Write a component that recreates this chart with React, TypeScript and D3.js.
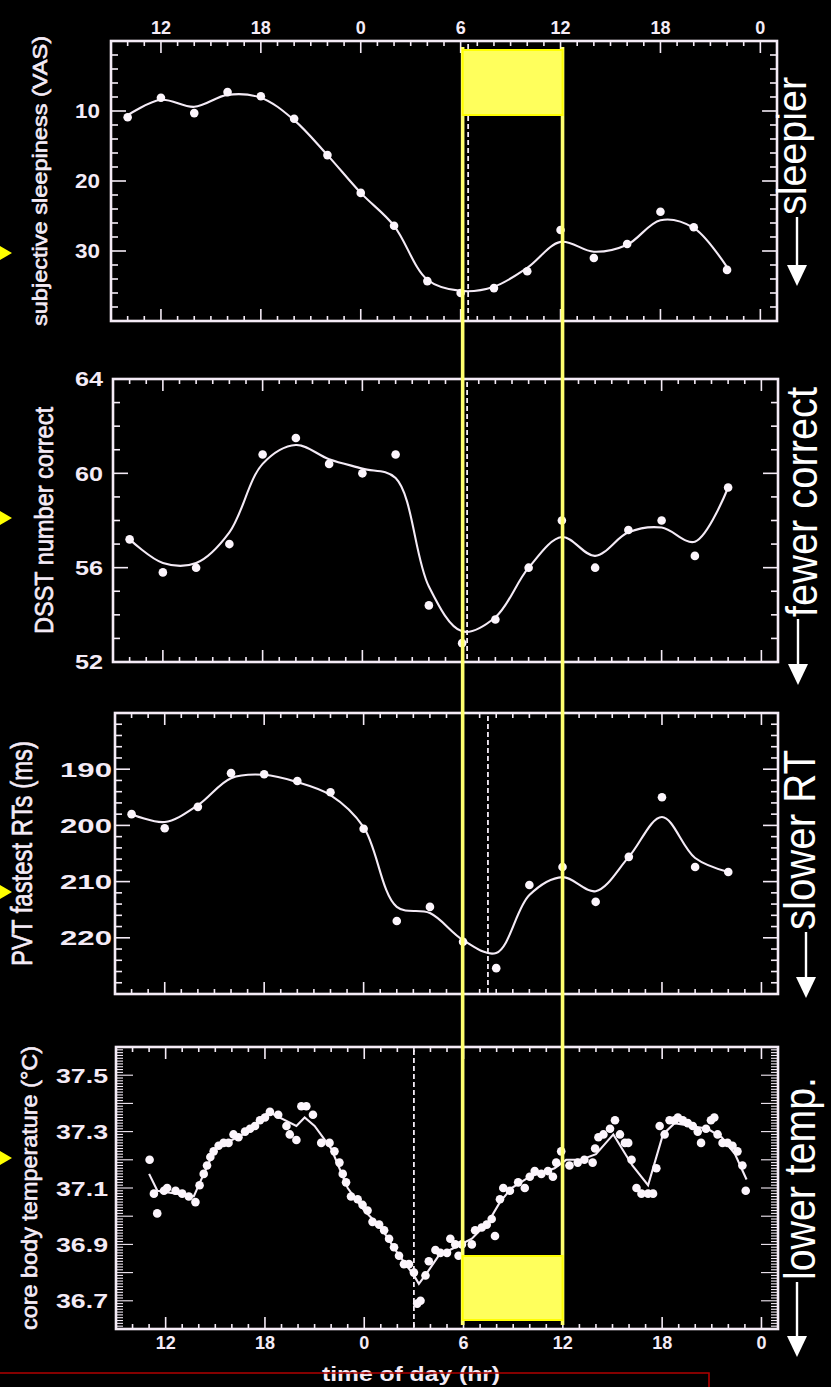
import * as d3 from "d3";

// session times (continuous clock hours, 24 = midnight, 48 = next midnight)
const sessionHours = [10, 12, 14, 16, 18, 20, 22, 24, 26, 28, 30, 32, 34, 36, 38, 40, 42, 44, 46];

const sleepiness = [10.9, 8.1, 10.3, 7.3, 7.9, 11.1, 16.3, 21.7, 26.4, 34.3, 36.0, 35.3, 32.9, 27.0, 31.0, 29.0, 24.4, 26.6, 32.7];
const sleepinessFit = [10.6, 8.4, 9.4, 7.7, 8.1, 11.3, 16.3, 21.7, 26.4, 34.1, 35.7, 35.1, 32.4, 28.7, 30.1, 29.1, 25.6, 26.7, 32.3];

const dsst = [57.2, 55.8, 56.0, 57.0, 60.8, 61.5, 60.4, 60.0, 60.8, 54.4, 52.8, 53.8, 56.0, 58.0, 56.0, 57.6, 58.0, 56.5, 59.4];
const dsstFit = [57.2, 56.2, 56.2, 57.5, 60.4, 61.2, 60.6, 60.2, 59.8, 55.2, 53.3, 53.9, 56.0, 57.3, 56.5, 57.5, 57.7, 57.1, 59.4];

const pvt = [198.0, 200.5, 196.7, 190.7, 190.9, 192.1, 194.1, 200.6, 217.0, 214.5, 220.7, 225.4, 210.6, 207.4, 213.6, 205.6, 195.0, 207.4, 208.3];
const pvtFit = [198.0, 199.4, 196.4, 191.6, 191.0, 192.3, 194.6, 200.3, 214.5, 215.6, 220.4, 222.7, 212.4, 209.2, 211.7, 205.6, 198.5, 205.8, 208.3];

const tempHours = [
  11.03, 11.29, 11.49, 11.9, 12.09, 12.6, 13.0, 13.4, 13.8, 14.05, 14.3, 14.5, 14.7, 14.9, 15.2, 15.5, 15.8,
  16.1, 16.4, 16.8, 17.1, 17.4, 17.7, 18.0, 18.3, 18.8, 19.3, 19.5, 19.9, 20.2, 20.5, 20.9, 21.4, 21.9,
  22.2, 22.5, 22.7, 22.9, 23.2, 23.6, 23.9, 24.2, 24.5, 24.9, 25.2, 25.5, 25.8, 26.1, 26.4, 26.7, 27.0,
  27.2, 27.4, 27.7, 27.9, 28.3, 28.6, 29.0, 29.2, 29.5, 29.7, 29.9, 30.5, 30.7, 31.1, 31.4, 31.7, 31.9,
  32.2, 32.4, 32.8, 33.3, 33.7, 34.0, 34.3, 34.7, 35.1, 35.4, 35.6, 35.9, 36.4, 36.9, 37.3, 37.8, 37.95,
  38.15, 38.45, 38.85, 39.15, 39.45, 39.75, 39.95, 40.15, 40.45, 40.75, 41.15, 41.45, 41.65, 41.85, 42.15,
  42.45, 42.75, 42.95, 43.25, 43.55, 43.85, 44.15, 44.35, 44.65, 44.95, 45.15, 45.35, 45.65, 45.95, 46.25,
  46.55, 46.85, 47.05,
];
const tempValues = [
  37.20, 37.08, 37.01, 37.09, 37.10, 37.09, 37.08, 37.07, 37.05, 37.11, 37.15, 37.18, 37.21, 37.23, 37.25, 37.26, 37.26,
  37.29, 37.28, 37.30, 37.31, 37.32, 37.34, 37.35, 37.37, 37.36, 37.32, 37.29, 37.27, 37.39, 37.39, 37.36, 37.26, 37.26,
  37.23, 37.19, 37.15, 37.12, 37.07, 37.06, 37.04, 37.02, 36.98, 36.97, 36.95, 36.92, 36.89, 36.86, 36.83, 36.83, 36.80,
  36.69, 36.70, 36.79, 36.84, 36.88, 36.87, 36.87, 36.92, 36.90, 36.86, 36.90, 36.90, 36.95, 36.96, 36.97, 36.99, 36.93,
  37.06, 37.10, 37.09, 37.12, 37.10, 37.14, 37.16, 37.15, 37.16, 37.14, 37.19, 37.23, 37.18, 37.19, 37.20, 37.19, 37.24,
  37.28, 37.29, 37.31, 37.34, 37.29, 37.26, 37.26, 37.20, 37.10, 37.08, 37.08, 37.08, 37.17, 37.32, 37.29,
  37.34, 37.34, 37.35, 37.34, 37.33, 37.32, 37.30, 37.26, 37.31, 37.34, 37.35, 37.29, 37.26, 37.26, 37.25,
  37.23, 37.18, 37.09,
];

const tempFitHours = [11.0, 11.5, 13.7, 14.0, 15.0, 16.0, 17.0, 18.2, 19.9, 20.4, 21.0, 22.0, 23.0, 24.0, 25.0, 26.0, 27.0, 27.3, 27.8, 28.5, 29.5, 30.5, 31.5, 32.2, 32.9, 34.0, 35.5, 36.2, 37.1, 38.0, 39.05, 40.2, 41.15, 42.05, 42.75, 43.75, 44.75, 45.6, 46.4, 47.1];
const tempFitValues = [37.15, 37.09, 37.07, 37.11, 37.24, 37.27, 37.30, 37.37, 37.32, 37.35, 37.32, 37.24, 37.10, 37.02, 36.96, 36.87, 36.79, 36.76, 36.80, 36.86, 36.89, 36.92, 36.98, 37.05, 37.10, 37.14, 37.17, 37.20, 37.20, 37.22, 37.29, 37.18, 37.11, 37.29, 37.33, 37.32, 37.31, 37.28, 37.22, 37.13];

// dashed phase markers, one per panel
const phaseMarkers = [30.45, 30.3, 31.5, 27.0];

const clockTicks = [12, 18, 24, 30, 36, 42, 48];
const sleepTicks = [10, 20, 30];
const dsstTicks = [52, 56, 60, 64];
const pvtTicks = [190, 200, 210, 220];
const tempTicks = [36.7, 36.9, 37.1, 37.3, 37.5];

const highlightWindow = [30, 36];

const FG = "#f4ebf6";
const FONT = "'Liberation Sans', Arial, Helvetica, sans-serif";

const panels = [
  {
    title: "subjective sleepiness (VAS)", titleSize: 21, titleX: 47, titleLen: 290,
    left: 111, right: 777, top: 41, bottom: 321, domain: [0, 40], minorCount: 20, major: 10,
    ticks: sleepTicks, labelRight: 100, labelWidth: 25, labelSize: 20,
    hours: sessionHours, fitHours: sessionHours, values: sleepiness, fit: sleepinessFit, smooth: true,
    side: "sleepier", sideSize: 40, sideBase: 806, sideLen: 138, sideStart: 215, arrowX: 797, arrowTip: 286,
  },
  {
    title: "DSST number correct", titleSize: 25, titleX: 53, titleLen: 227,
    left: 113, right: 778, top: 379, bottom: 662, domain: [64, 52], minorCount: 12, major: 4,
    ticks: dsstTicks, labelRight: 103, labelWidth: 28, labelSize: 20,
    hours: sessionHours, fitHours: sessionHours, values: dsst, fit: dsstFit, smooth: true,
    side: "fewer correct", sideSize: 44, sideBase: 817, sideLen: 230, sideStart: 617, arrowX: 798, arrowTip: 685,
  },
  {
    title: "PVT fastest RTs (ms)", titleSize: 29, titleX: 32, titleLen: 225,
    left: 115, right: 778, top: 713, bottom: 994, domain: [180, 230], minorCount: 25, major: 10,
    ticks: pvtTicks, labelRight: 112, labelWidth: 52, labelSize: 21,
    hours: sessionHours, fitHours: sessionHours, values: pvt, fit: pvtFit, smooth: true,
    side: "slower RT", sideSize: 44, sideBase: 815, sideLen: 180, sideStart: 930, arrowX: 806, arrowTip: 998,
  },
  {
    title: "core body temperature (°C)", titleSize: 22, titleX: 37, titleLen: 284,
    left: 116, right: 778, top: 1047, bottom: 1329, domain: [37.6, 36.6], minorCount: 100, major: 0.1,
    ticks: tempTicks, labelRight: 108, labelWidth: 52, labelSize: 21,
    hours: tempHours, fitHours: tempFitHours, values: tempValues, fit: tempFitValues, smooth: false,
    side: "lower temp.", sideSize: 44, sideBase: 815, sideLen: 203, sideStart: 1280, arrowX: 797, arrowTip: 1357,
  },
];

const leftArrowY = [253, 518, 892, 1158];

function isMajor(v: number, step: number) {
  const r = v / step;
  return Math.abs(r - Math.round(r)) < 1e-6;
}

export default function App() {
  const width = 831;
  const height = 1387;

  const scales = panels.map((p) => ({
    x: d3.scaleLinear().domain([9, 49]).range([p.left, p.right]),
    y: d3.scaleLinear().domain(p.domain).range([p.top, p.bottom]),
  }));

  const first = scales[0];
  const last = scales[scales.length - 1];
  const p0 = panels[0];
  const p3 = panels[panels.length - 1];

  return (
    <svg
      width={width}
      height={height}
      viewBox={`0 0 ${width} ${height}`}
      style={{ position: "absolute", left: 0, top: 0, display: "block", background: "#000" }}
      fontFamily={FONT}
    >
      <rect x={0} y={0} width={width} height={height} fill="#000" />

      {panels.map((p, pi) => {
        const { x, y } = scales[pi];
        const hourTicks = d3.range(10, 49);
        const lo = Math.min(...p.domain);
        const hi = Math.max(...p.domain);
        const yTicks = y.ticks(p.minorCount).filter((v) => v > lo + 1e-6 && v < hi - 1e-6);
        const minorLen = 7;
        const majorLen = pi === 3 ? 17 : 15;

        const fitLine = d3
          .line<number>()
          .x((_, i) => x(p.fitHours[i]))
          .y((d) => y(d))
          .curve(p.smooth ? d3.curveCatmullRom.alpha(0.5) : d3.curveLinear);

        const titleCenter = (p.top + p.bottom) / 2;

        return (
          <g key={p.title}>
            {/* axis title */}
            <text
              transform={`translate(${p.titleX}, ${titleCenter}) rotate(-90)`}
              textAnchor="middle"
              fontSize={p.titleSize}
              fill={FG}
              stroke={FG}
              strokeWidth={0.6}
              textLength={p.titleLen}
              lengthAdjust="spacingAndGlyphs"
            >
              {p.title}
            </text>

            {/* hour ticks, top and bottom */}
            {hourTicks.map((h) => {
              const len = h % 6 === 0 ? 12 : 5;
              return (
                <g key={`h${h}`} stroke={FG} strokeWidth={1.6}>
                  <line x1={x(h)} x2={x(h)} y1={p.top} y2={p.top + len} />
                  <line x1={x(h)} x2={x(h)} y1={p.bottom} y2={p.bottom - len} />
                </g>
              );
            })}

            {/* value ticks, left and right */}
            {yTicks.map((v) => {
              const len = isMajor(v, p.major) ? majorLen : minorLen;
              return (
                <g key={`v${v}`} stroke={FG} strokeWidth={pi === 3 ? 1.1 : 1.6}>
                  <line x1={p.left} x2={p.left + len} y1={y(v)} y2={y(v)} />
                  <line x1={p.right} x2={p.right - len} y1={y(v)} y2={y(v)} />
                </g>
              );
            })}

            {/* value tick labels */}
            {p.ticks.map((v) => (
              <text
                key={`l${v}`}
                x={p.labelRight}
                y={y(v) + p.labelSize * 0.36}
                textAnchor="end"
                fontSize={p.labelSize}
                fontWeight="bold"
                fill={FG}
                textLength={p.labelWidth}
                lengthAdjust="spacingAndGlyphs"
              >
                {p.major < 1 ? v.toFixed(1) : v}
              </text>
            ))}

            {/* phase marker */}
            <line
              x1={x(phaseMarkers[pi])}
              x2={x(phaseMarkers[pi])}
              y1={p.top + 3}
              y2={p.bottom}
              stroke={FG}
              strokeWidth={1.8}
              strokeDasharray="5 3"
            />

            {/* fitted curve */}
            <path d={fitLine(p.fit) ?? ""} fill="none" stroke={FG} strokeWidth={2.1} />

            {/* data points */}
            {p.values.map((v, i) => (
              <circle key={`c${i}`} cx={x(p.hours[i])} cy={y(v)} r={4.3} fill="#fcf5fc" />
            ))}

            {/* frame */}
            <rect
              x={p.left}
              y={p.top}
              width={p.right - p.left}
              height={p.bottom - p.top}
              fill="none"
              stroke={FG}
              strokeWidth={2.6}
            />

            {/* right-hand direction label */}
            <text
              transform={`translate(${p.sideBase}, ${p.sideStart}) rotate(-90)`}
              fontSize={p.sideSize}
              fill="#ffffff"
              textLength={p.sideLen}
              lengthAdjust="spacingAndGlyphs"
            >
              {p.side}
            </text>
            <line
              x1={p.arrowX}
              x2={p.arrowX}
              y1={p.sideStart + 2}
              y2={p.arrowTip - 18}
              stroke="#ffffff"
              strokeWidth={2.4}
            />
            <path
              d={`M${p.arrowX - 10},${p.arrowTip - 21} L${p.arrowX + 10},${p.arrowTip - 21} L${p.arrowX},${p.arrowTip} Z`}
              fill="#ffffff"
            />

            {/* yellow pointer on the far left */}
            <path
              d={`M0,${leftArrowY[pi] - 7} L12,${leftArrowY[pi]} L0,${leftArrowY[pi] + 7} Z`}
              fill="#ffff00"
            />
          </g>
        );
      })}

      {/* clock labels on top */}
      {clockTicks.map((h) => (
        <text
          key={`t${h}`}
          x={first.x(h)}
          y={p0.top - 7}
          textAnchor="middle"
          fontSize={18}
          fontWeight="bold"
          fill={FG}
        >
          {h % 24}
        </text>
      ))}

      {/* clock labels at bottom */}
      {clockTicks.map((h) => (
        <text
          key={`b${h}`}
          x={last.x(h)}
          y={p3.bottom + 20}
          textAnchor="middle"
          fontSize={18}
          fontWeight="bold"
          fill={FG}
        >
          {h % 24}
        </text>
      ))}

      <text
        x={411}
        y={1381}
        textAnchor="middle"
        fontSize={21}
        fontWeight="bold"
        fill={FG}
        textLength={178}
        lengthAdjust="spacingAndGlyphs"
      >
        time of day (hr)
      </text>

      {/* red outline at the bottom */}
      <path d="M0,1373 H709 V1390" fill="none" stroke="#b00000" strokeWidth={1.6} />

      {/* highlighted window */}
      {highlightWindow.map((h) => (
        <line
          key={`y${h}`}
          x1={first.x(h) + 2}
          x2={first.x(h) + 2}
          y1={p0.top + 6}
          y2={p3.bottom - 4}
          stroke="#ffff6e"
          strokeWidth={3.6}
        />
      ))}
      <rect
        x={first.x(highlightWindow[0]) + 2}
        y={p0.top + 9}
        width={first.x(highlightWindow[1]) - first.x(highlightWindow[0])}
        height={65}
        fill="#ffff5c"
        stroke="#ffff00"
        strokeWidth={2}
      />
      <rect
        x={first.x(highlightWindow[0]) + 2}
        y={p3.bottom - 73}
        width={first.x(highlightWindow[1]) - first.x(highlightWindow[0])}
        height={64}
        fill="#ffff5c"
        stroke="#ffff00"
        strokeWidth={2}
      />
    </svg>
  );
}
